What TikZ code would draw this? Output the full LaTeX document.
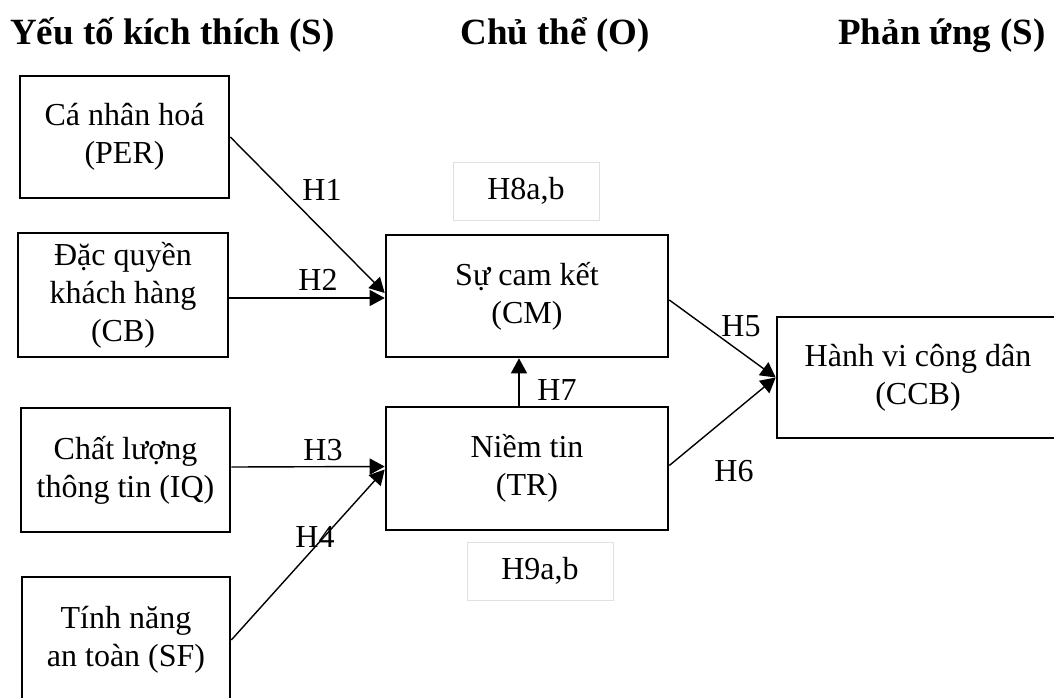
\documentclass[tikz,border=0pt]{standalone}
\usepackage{fontspec}
\setmainfont{Liberation Serif}
\usetikzlibrary{arrows.meta}
\begin{document}
\begin{tikzpicture}[x=1pt,y=-1pt,
  box/.style={draw, line width=2.6pt, align=center, inner sep=0pt,
    font=\fontsize{32}{38}\selectfont},
  hbox/.style={draw=black!12, line width=1pt, align=center, inner sep=0pt,
    minimum width=146pt, minimum height=58pt, font=\fontsize{32}{37}\selectfont},
  lbl/.style={inner sep=0pt, font=\fontsize{32}{37}\selectfont},
  ttl/.style={inner sep=0pt, anchor=base, font=\fontsize{37}{44}\selectfont\bfseries},
  arr/.style={line width=1.4pt, -{Triangle[length=15pt,width=16pt]}}]
\useasboundingbox (0,0) rectangle (1054,698);
\clip (0,0) rectangle (1054,698);
\fill[white] (0,0) rectangle (1054,698);

% titles
\node[ttl] (t1) at (172.5,45) {Yếu tố kích thích (S)};
\node[ttl] (t2) at (555,45) {Chủ thể (O)};
\node[ttl] (t3) at (942,45) {Phản ứng (S)};

% left boxes
\node[box, minimum width=209pt, minimum height=122pt] (PER) at (124.5,137) {Cá nhân hoá\\(PER)};
\node[box, minimum width=210pt, minimum height=124pt] (CB) at (123,295) {Đặc quyền\\khách hàng\\(CB)};
\node[box, minimum width=209pt, minimum height=124pt] (IQ) at (125.5,470) {Chất lượng\\thông tin (IQ)};
\node[box, minimum width=208pt, minimum height=126pt] (SF) at (126,640) {Tính năng\\an toàn (SF)};

% middle boxes
\node[box, minimum width=282pt, minimum height=122pt] (CM) at (527,296) {Sự cam kết\\(CM)};
\node[box, minimum width=282pt, minimum height=123pt] (TR) at (527,468.5) {Niềm tin\\(TR)};

% right box
\node[box, minimum width=282pt, minimum height=121pt] (CCB) at (918,377.5) {Hành vi công dân\\(CCB)};

% hypothesis boxes
\node[hbox] (H8) at (526,191) {H8a,b};
\node[hbox] (H9) at (540,571) {H9a,b};

% connectors
\draw[arr] (PER.east) -- ([yshift=3pt]CM.west);
\draw[arr] ([yshift=-3pt]CB.east) -- ([yshift=-2pt]CM.west);
\draw[arr] ([yshift=3pt]IQ.east) -- ([yshift=2pt]TR.west);
\draw[arr] (SF.east) -- ([yshift=-1pt]TR.west);
\draw[arr] ([yshift=-4pt]CM.east) -- (CCB.west);
\draw[arr] ([yshift=3pt]TR.east) -- (CCB.west);
\draw[arr] ([xshift=-8pt]TR.north) -- ([xshift=-8pt]CM.south);

% labels
\node[lbl] (l1) at (322,190) {H1};
\node[lbl] (l2) at (318,280) {H2};
\node[lbl] (l3) at (323,450) {H3};
\node[lbl] (l4) at (315,537) {H4};
\node[lbl] (l5) at (741,326) {H5};
\node[lbl] (l6) at (734,471) {H6};
\node[lbl] (l7) at (557,390) {H7};
\end{tikzpicture}
\end{document}
